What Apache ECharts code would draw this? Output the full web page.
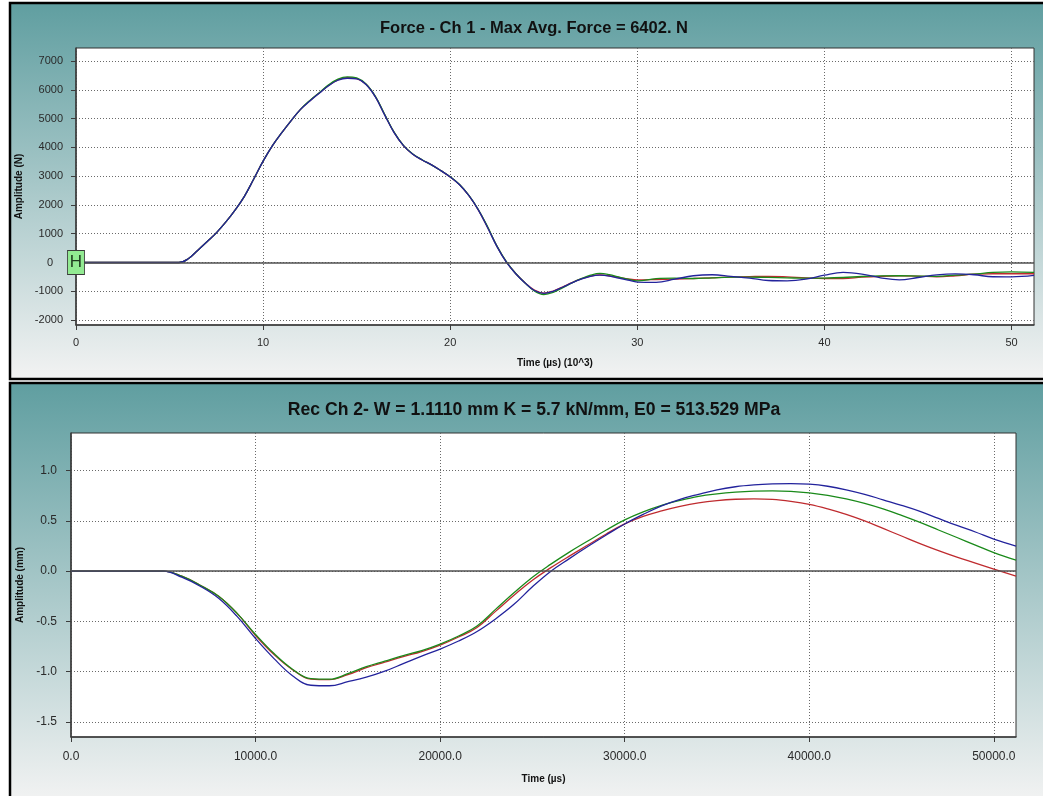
<!DOCTYPE html>
<html>
<head>
<meta charset="utf-8">
<script src="https://cdn.jsdelivr.net/npm/echarts@6/dist/echarts.min.js"></script>
<style>
  html, body { margin: 0; padding: 0; background: #ffffff; }
  #chart { width: 1043px; height: 796px; }
</style>
</head>
<body>
<div id="chart"></div>
<script>
// ---- Force, channel 1 (time in 10^3 µs, amplitude in N) ----
const timeForce = [0, 5.5, 6, 6.5, 7, 7.5, 8, 8.5, 9, 9.5, 10, 10.5, 11, 11.5, 12, 12.5, 13, 13.5, 14, 14.5,
  15, 15.5, 16, 16.5, 17, 17.5, 18, 18.5, 19, 19.5, 20, 20.5, 21, 21.5, 22, 22.5, 23, 23.5, 24, 24.5,
  25, 25.5, 26, 26.5, 27, 27.5, 28, 28.5, 29, 29.5, 30, 31, 32, 33, 34, 35, 36, 37, 38, 39,
  40, 41, 42, 43, 44, 45, 46, 47, 48, 49, 50, 51.2];

const forceRed = [0, 0, 130, 420, 720, 1030, 1400, 1820, 2300, 2900, 3520, 4060, 4510, 4930, 5320, 5620, 5890, 6150, 6340, 6420,
  6390, 6190, 5760, 5130, 4520, 4060, 3760, 3560, 3390, 3190, 2970, 2700, 2320, 1830, 1220, 560, 20, -380, -700, -960,
  -1060, -990, -850, -700, -570, -470, -430, -460, -520, -570, -600, -590, -575, -555, -530, -505, -490, -480, -500, -535,
  -555, -555, -510, -480, -465, -470, -495, -460, -405, -390, -390, -390];

const forceGreen = [0, 0, 130, 420, 720, 1030, 1400, 1820, 2300, 2900, 3520, 4060, 4510, 4930, 5320, 5630, 5900, 6170, 6370, 6450,
  6410, 6200, 5770, 5140, 4530, 4070, 3770, 3570, 3390, 3190, 2980, 2710, 2330, 1840, 1240, 570, 30, -380, -710, -990,
  -1110, -1040, -880, -710, -560, -440, -380, -420, -500, -580, -640, -560, -545, -555, -530, -510, -510, -515, -530, -545,
  -540, -520, -485, -465, -460, -470, -480, -440, -400, -345, -325, -345];

const forceBlue = [0, 0, 130, 420, 720, 1030, 1400, 1820, 2300, 2900, 3520, 4060, 4510, 4930, 5320, 5610, 5880, 6140, 6330, 6400,
  6380, 6180, 5750, 5120, 4510, 4060, 3760, 3560, 3390, 3190, 2970, 2700, 2320, 1830, 1210, 550, 10, -390, -710, -970,
  -1070, -1000, -860, -710, -580, -480, -440, -470, -540, -610, -680, -690, -580, -460, -425, -480, -540, -625, -635, -580,
  -440, -345, -400, -530, -600, -520, -430, -395, -425, -495, -500, -450];

const forceTicksX = [0, 10, 20, 30, 40, 50];
const forceTicksY = [-2000, -1000, 0, 1000, 2000, 3000, 4000, 5000, 6000, 7000];

// ---- Recorder, channel 2 (time in µs, amplitude in mm) ----
const timeRec = [0, 5000, 6000, 7000, 8000, 9000, 10000, 11000, 12000, 13000, 14000, 15000, 16000, 17000, 18000,
  19000, 20000, 21000, 22000, 23000, 24000, 25000, 26000, 27000, 28000, 29000, 30000,
  31000, 32000, 33000, 34000, 35000, 36000, 37000, 38000, 39000, 40000,
  41000, 42000, 43000, 44000, 45000, 46000, 47000, 48000, 49000, 50000, 51200];

const recRed = [0, 0, -0.05, -0.14, -0.25, -0.42, -0.64, -0.83, -0.98, -1.075, -1.08, -1.03, -0.96, -0.905, -0.85,
  -0.80, -0.735, -0.655, -0.56, -0.40, -0.24, -0.09, 0.035, 0.15, 0.26, 0.37, 0.47,
  0.545, 0.60, 0.645, 0.68, 0.703, 0.716, 0.72, 0.715, 0.695, 0.665,
  0.62, 0.565, 0.50, 0.425, 0.35, 0.275, 0.205, 0.14, 0.08, 0.02, -0.05];

const recGreen = [0, 0, -0.05, -0.14, -0.25, -0.42, -0.63, -0.82, -0.975, -1.07, -1.075, -1.02, -0.95, -0.895, -0.84,
  -0.79, -0.725, -0.645, -0.545, -0.38, -0.215, -0.06, 0.07, 0.19, 0.30, 0.41, 0.51,
  0.59, 0.655, 0.705, 0.745, 0.77, 0.787, 0.797, 0.80, 0.795, 0.78,
  0.755, 0.72, 0.675, 0.62, 0.555, 0.485, 0.41, 0.335, 0.26, 0.185, 0.11];

const recBlue = [0, 0, -0.06, -0.15, -0.27, -0.45, -0.67, -0.87, -1.04, -1.135, -1.14, -1.10, -1.055, -0.995, -0.92,
  -0.845, -0.775, -0.695, -0.60, -0.475, -0.33, -0.155, 0.0, 0.125, 0.245, 0.36, 0.47,
  0.565, 0.65, 0.715, 0.765, 0.81, 0.84, 0.858, 0.868, 0.872, 0.866,
  0.845, 0.81, 0.765, 0.71, 0.655, 0.595, 0.525, 0.455, 0.39, 0.32, 0.25];

const recTicksX = [0, 10000, 20000, 30000, 40000, 50000];
const recTicksY = [-1.5, -1.0, -0.5, 0.0, 0.5, 1.0];

const titleForce = 'Force - Ch 1 - Max Avg. Force = 6402. N';
const titleRec = 'Rec Ch 2- W = 1.1110 mm K = 5.7 kN/mm, E0 = 513.529 MPa';

const FONT = 'Liberation Sans, Arial, sans-serif';
const COLORS = { red: '#bf2b2f', green: '#1a8a1a', blue: '#23239c' };

function pairs(xs, ys) { return xs.map((x, i) => [x, ys[i]]); }

const panelFill = {
  type: 'linear', x: 0, y: 0, x2: 0, y2: 1,
  colorStops: [{ offset: 0, color: '#5f9ea0' }, { offset: 1, color: '#f3f3f3' }]
};

const gridLine = { show: true, lineStyle: { color: '#6a6a6a', type: [1, 2], width: 1 } };

function valueAxis(gridIndex, min, max, ticks, fmt, labelSize, margin, extra) {
  return Object.assign({
    type: 'value', gridIndex, min, max,
    axisLine: { show: true, onZero: false, lineStyle: { color: '#3c3c3c', width: 1.5 } },
    axisTick: { show: true, length: 5, customValues: ticks, lineStyle: { color: '#3c3c3c' } },
    axisLabel: {
      customValues: ticks, formatter: fmt, color: '#2a2a2a', fontSize: labelSize, fontFamily: FONT, margin,
      rich: { zero: { fontSize: labelSize, fontFamily: FONT, color: '#2a2a2a', padding: [0, 10, 0, 0] } }
    },
    splitLine: gridLine,
    nameTextStyle: { fontFamily: FONT, fontWeight: 'bold', color: '#111', fontSize: 10 }
  }, extra || {});
}

function sideAxis(gridIndex, min, max, ticks) {
  return {
    type: 'value', gridIndex, min, max, position: 'right',
    axisLine: { show: false },
    axisTick: { show: true, inside: true, length: 4, customValues: ticks, lineStyle: { color: '#3c3c3c' } },
    axisLabel: { show: false },
    splitLine: { show: false }
  };
}

const zeroLine = {
  silent: true, symbol: 'none', animation: false,
  label: { show: false },
  lineStyle: { color: '#505050', width: 1.5, type: 'solid' },
  data: [{ yAxis: 0 }]
};

function lineSeries(name, data, color, xi, yi, extra) {
  return Object.assign({
    name, type: 'line', data, xAxisIndex: xi, yAxisIndex: yi,
    showSymbol: false, smooth: 0.4, clip: true,
    lineStyle: { color, width: 1.3 }, itemStyle: { color }
  }, extra || {});
}

const option = {
  animation: false,
  backgroundColor: '#ffffff',
  textStyle: { fontFamily: FONT },
  graphic: [
    { type: 'rect', z: -10, shape: { x: 10, y: 3, width: 1040, height: 376 },
      style: { fill: panelFill, stroke: '#000', lineWidth: 2.5 } },
    { type: 'rect', z: -10, shape: { x: 10, y: 383, width: 1040, height: 420 },
      style: { fill: panelFill, stroke: '#000', lineWidth: 2.5 } }
  ],
  title: [
    { text: titleForce, left: 529, top: 15, textAlign: 'center',
      textStyle: { fontFamily: FONT, fontWeight: 'bold', fontSize: 16.5, color: '#111' } },
    { text: titleRec, left: 529, top: 396, textAlign: 'center',
      textStyle: { fontFamily: FONT, fontWeight: 'bold', fontSize: 17.6, color: '#111' } }
  ],
  grid: [
    { left: 76, top: 48, right: 9, bottom: 471, show: true, backgroundColor: '#ffffff', borderColor: '#333', borderWidth: 1 },
    { left: 71, top: 433, right: 27, bottom: 59, show: true, backgroundColor: '#ffffff', borderColor: '#333', borderWidth: 1 }
  ],
  xAxis: [
    valueAxis(0, 0, 51.2, forceTicksX, v => String(v), 11, 12, {
      name: 'Time (µs) (10^3)', nameLocation: 'middle', nameGap: 33
    }),
    valueAxis(1, 0, 51200, recTicksX, v => v.toFixed(1), 12, 14, {
      name: 'Time (µs)', nameLocation: 'middle', nameGap: 37
    })
  ],
  yAxis: [
    valueAxis(0, -2170, 7450, forceTicksY, v => (v === 0 ? '{zero|0}' : String(v)), 11, 13, {
      name: 'Amplitude (N)', nameLocation: 'middle', nameGap: 48
    }),
    valueAxis(1, -1.65, 1.375, recTicksY, v => v.toFixed(1), 12, 14, {
      name: 'Amplitude (mm)', nameLocation: 'middle', nameGap: 43
    }),
    sideAxis(0, -2170, 7450, forceTicksY),
    sideAxis(1, -1.65, 1.375, recTicksY)
  ],
  series: [
    lineSeries('Force 1', pairs(timeForce, forceRed), COLORS.red, 0, 0, {
      markLine: zeroLine,
      markPoint: {
        silent: true, animation: false,
        symbol: 'rect', symbolSize: [17, 24],
        itemStyle: { color: '#92ea92', borderColor: '#3a3a3a', borderWidth: 1 },
        label: { show: true, position: 'inside', formatter: 'H', color: '#1e3a1e', fontSize: 17, fontFamily: FONT },
        data: [{ coord: [0, 0] }]
      }
    }),
    lineSeries('Force 2', pairs(timeForce, forceGreen), COLORS.green, 0, 0),
    lineSeries('Force 3', pairs(timeForce, forceBlue), COLORS.blue, 0, 0),
    lineSeries('Rec 1', pairs(timeRec, recRed), COLORS.red, 1, 1, { markLine: zeroLine }),
    lineSeries('Rec 2', pairs(timeRec, recGreen), COLORS.green, 1, 1),
    lineSeries('Rec 3', pairs(timeRec, recBlue), COLORS.blue, 1, 1)
  ]
};

const chart = echarts.init(document.getElementById('chart'), null, { renderer: 'canvas' });
chart.setOption(option);
</script>
</body>
</html>
